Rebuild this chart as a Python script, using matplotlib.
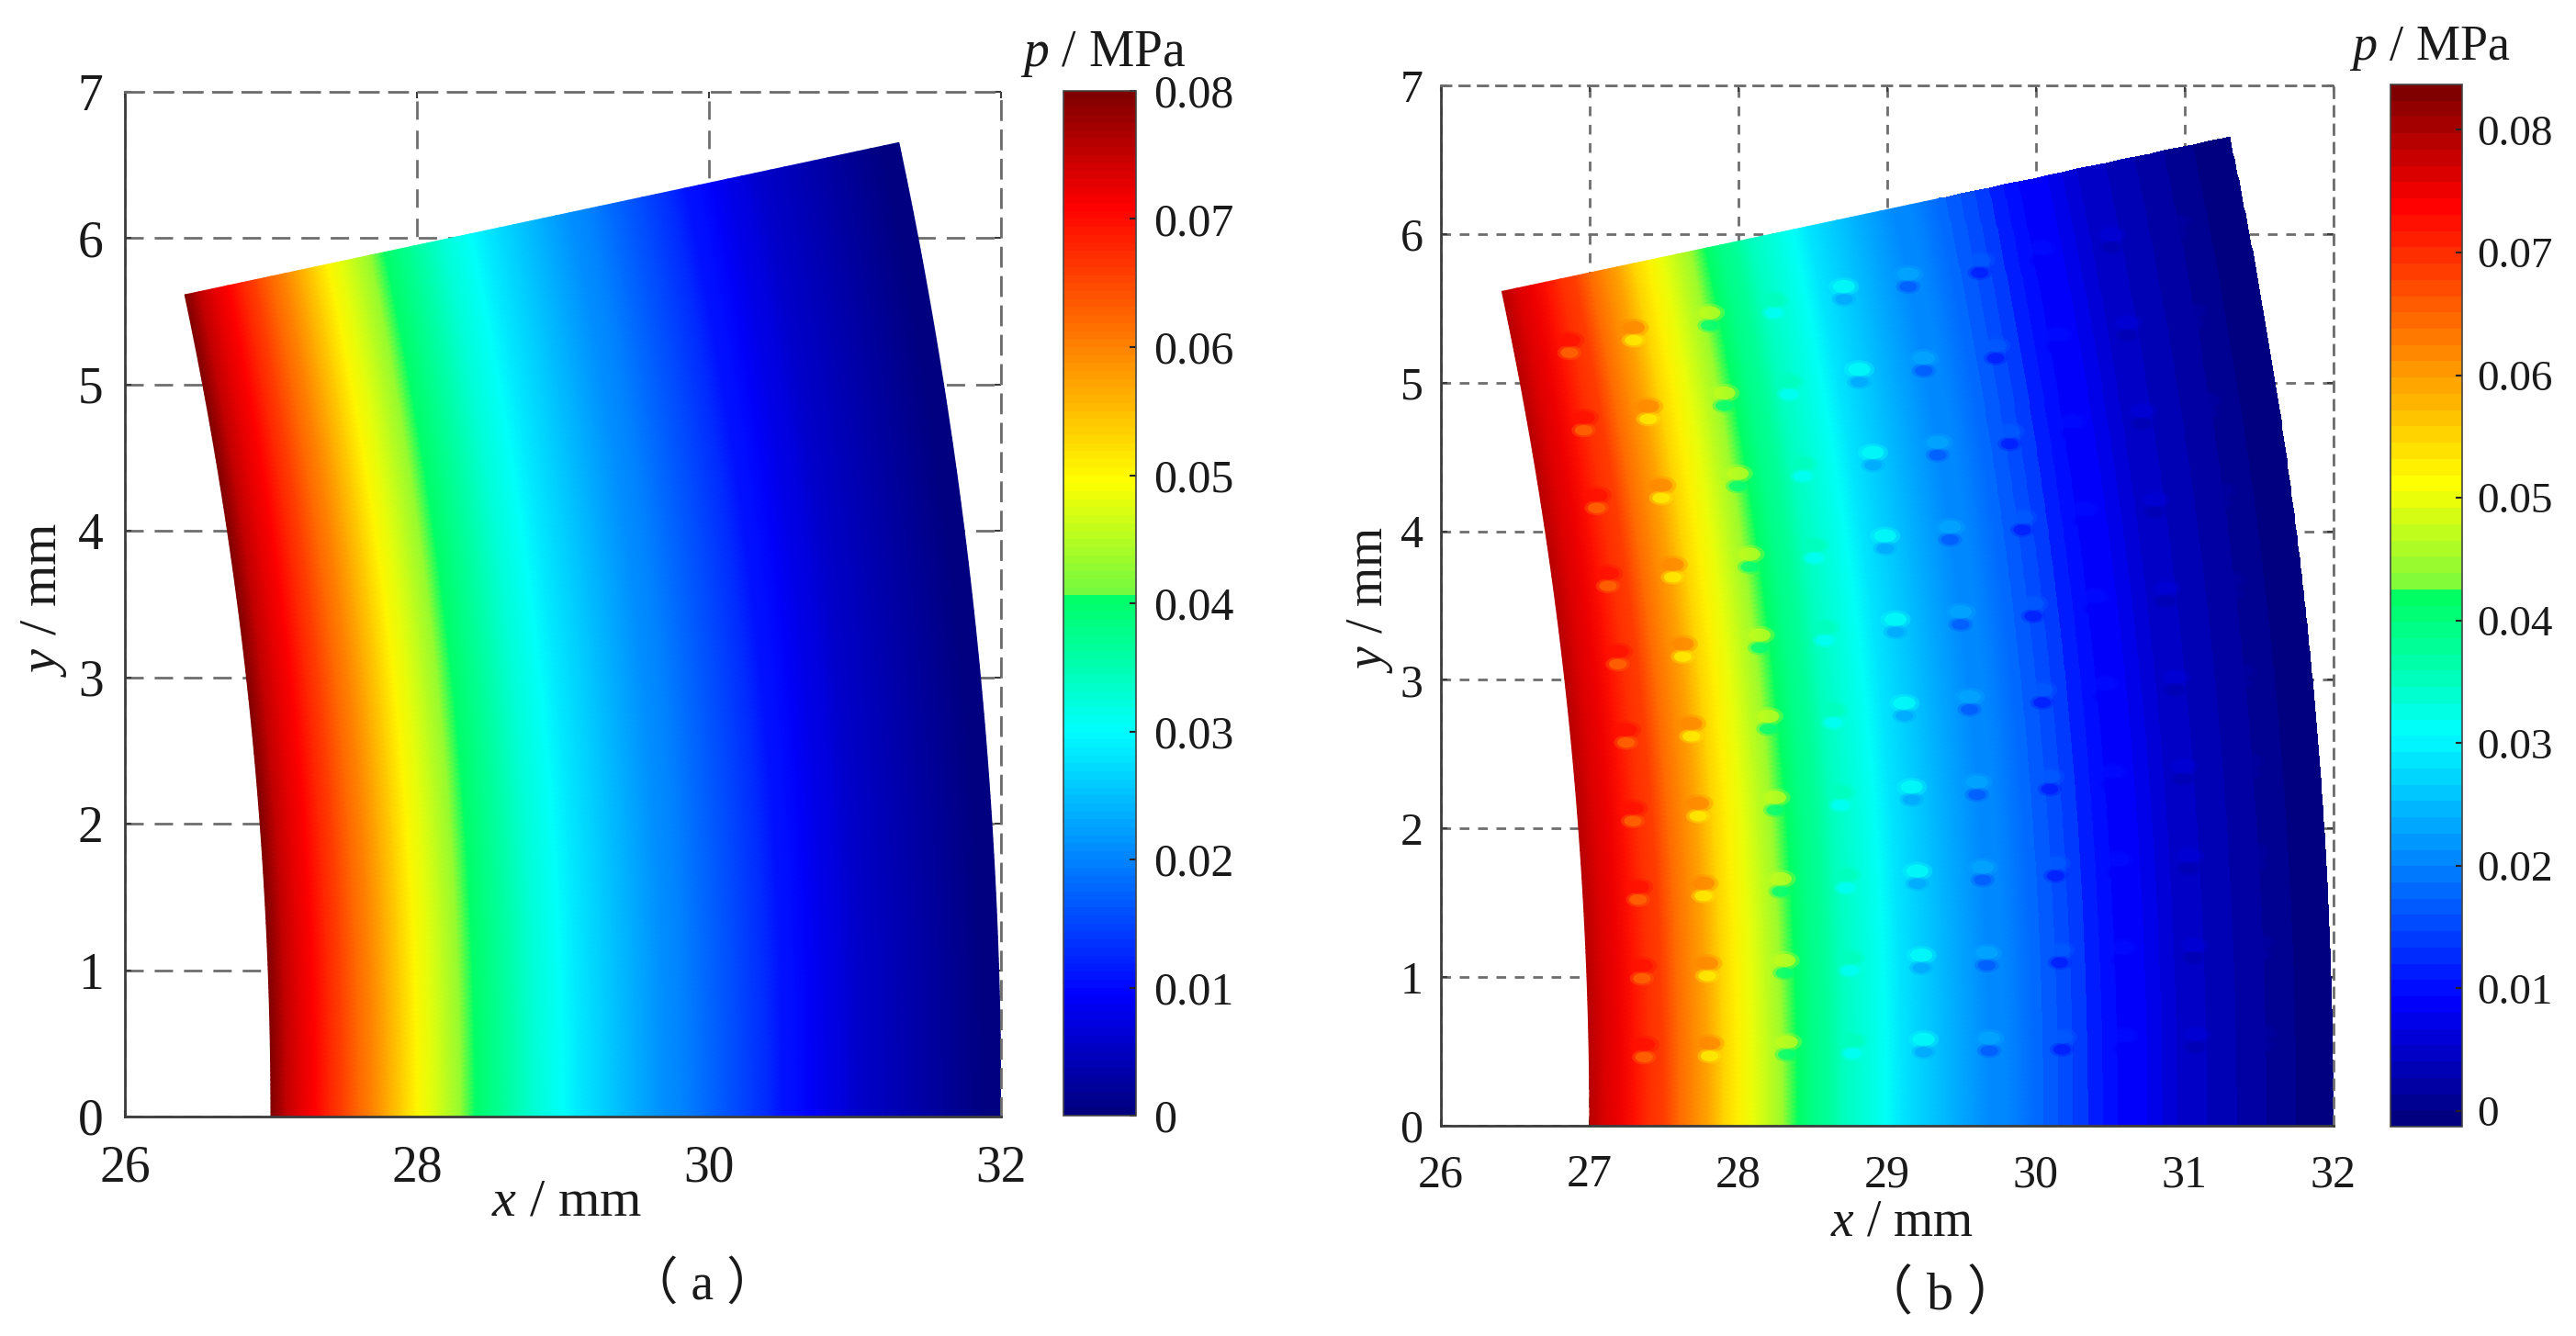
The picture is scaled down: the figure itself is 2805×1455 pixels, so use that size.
import numpy as np
import matplotlib
matplotlib.use("Agg")
import matplotlib.pyplot as plt
from matplotlib.colors import LinearSegmentedColormap, Normalize
from matplotlib.path import Path
from matplotlib.transforms import Affine2D

W, H = 2805, 1455

plt.rcParams["font.family"] = ["Liberation Serif", "Noto Sans CJK SC"]
plt.rcParams["mathtext.fontset"] = "custom"
plt.rcParams["mathtext.it"] = "Liberation Serif:italic"
plt.rcParams["mathtext.rm"] = "Liberation Serif"

# radial positions of the pressure readings, mm
r_nodes = [27.0, 27.1, 27.2, 27.3, 27.4, 27.5, 27.6, 27.7, 27.8, 27.9,
           28.0, 28.1, 28.2, 28.3, 28.4, 28.5, 28.6, 28.7, 28.8, 28.9,
           29.0, 29.1, 29.2, 29.3, 29.4, 29.5, 29.6, 29.7, 29.8, 29.9,
           30.0, 30.1, 30.2, 30.3, 30.4, 30.5, 30.6, 30.7, 30.8, 30.9,
           31.0, 31.1, 31.2, 31.3, 31.4, 31.5, 31.6, 31.7, 31.8, 31.9, 32.0]

# pressure, MPa
p_a = [.0800, .0755, .0730, .0710, .0680, .0650, .0622, .0595, .0565, .0535,
       .0505, .0480, .0455, .0430, .0405, .0385, .0365, .0345, .0330, .0315,
       .0300, .0285, .0272, .0258, .0246, .0234, .0223, .0212, .0200, .0190,
       .0178, .0166, .0153, .0140, .0125, .0112, .0100, .0090, .0080, .0070,
       .0062, .0054, .0047, .0040, .0034, .0028, .0023, .0018, .0012, .0006, .0000]

# pressure, MPa
p_b = [.0790, .0760, .0745, .0728, .0703, .0678, .0648, .0619, .0587, .0555,
       .0524, .0497, .0470, .0444, .0417, .0396, .0375, .0354, .0338, .0322,
       .0306, .0290, .0276, .0261, .0248, .0236, .0224, .0212, .0200, .0189,
       .0176, .0163, .0150, .0136, .0120, .0106, .0093, .0083, .0072, .0061,
       .0053, .0044, .0037, .0030, .0023, .0017, .0011, .0006, .0000, -.0006, -.0013]

# surface dimples in panel (b)
dimple_r = [27.37, 27.81, 28.33, 28.77, 29.25, 29.69, 30.18, 30.60, 31.08, 31.53]
dimple_deg = [1.05, 2.16, 3.27, 4.38, 5.49, 6.60, 7.71, 8.82, 9.93, 11.04]
dimple_hi = [.0015, .0030, .0025, .0010, .0035, .0025, .0015, .0008, .0012, .0004]
dimple_lo = [-.0060, -.0065, -.0040, -.0030, -.0045, -.0045, -.0040, -.0008, -.0015, -.0003]

sector_deg = [0, 12]

cbar_ticks_a = [0, .01, .02, .03, .04, .05, .06, .07, .08]
cbar_ticks_b = [0, .01, .02, .03, .04, .05, .06, .07, .08]
cbar_labels = ["0", "0.01", "0.02", "0.03", "0.04", "0.05", "0.06", "0.07", "0.08"]

# jet-like map with the jump seen near the middle of both colorbars
cmap_stops = [(0.0, (0, 0, 0.5)), (0.115, (0, 0, 1)), (0.375, (0, 1, 1)),
              (0.44, (0, 1, 0.68)), (0.51, (0, 1, 0.38)), (0.51, (0.45, 0.98, 0.25)),
              (0.62, (1, 1, 0)), (0.89, (1, 0, 0)), (1.0, (0.5, 0, 0))]


def px_axes(left, top, right, bottom):
    return fig.add_axes([left / W, 1 - bottom / H, (right - left) / W, (bottom - top) / H])


def sector_smooth(ax, r, p, cmap, norm):
    th = np.radians(np.linspace(sector_deg[0], sector_deg[1], 181))
    R, T = np.meshgrid(r, th)
    C = np.tile(np.array(p), (len(th), 1))
    return ax.pcolormesh(R * np.cos(T), R * np.sin(T), C, cmap=cmap, norm=norm,
                         shading="gouraud", zorder=2, rasterized=True)


def sector_bands(ax, r, p, cmap, norm):
    # one flat band around each reading, this is what shows as stripes in (b)
    r = np.array(r)
    edges = np.concatenate([[r[0]], (r[:-1] + r[1:]) / 2, [r[-1]]])
    th = np.radians(np.linspace(sector_deg[0], sector_deg[1], 181))
    R, T = np.meshgrid(edges, th)
    C = np.tile(np.array(p), (len(th) - 1, 1))
    return ax.pcolormesh(R * np.cos(T), R * np.sin(T), C, cmap=cmap, norm=norm,
                         shading="flat", zorder=2, rasterized=True)


def style_axes(ax, xticks, dash, tick_size, xpad, ypad):
    ax.set_xlim(26, 32)
    ax.set_ylim(0, 7)
    ax.set_xticks(xticks)
    ax.set_yticks(range(8))
    ax.grid(True, color="#6e6e6e", lw=2, linestyle=(0, dash), zorder=1)
    ax.set_axisbelow(True)
    for s in ["top", "right"]:
        ax.spines[s].set_linestyle((0, dash))
        ax.spines[s].set_color("#6e6e6e")
        ax.spines[s].set_linewidth(2)
    for s in ["left", "bottom"]:
        ax.spines[s].set_color("#3c3c3c")
        ax.spines[s].set_linewidth(2)
    ax.tick_params(direction="in", length=5, width=1.5, top=True, right=True,
                   color="#3c3c3c", labelsize=tick_size, labelcolor="#1a1a1a")
    ax.tick_params(axis="x", pad=xpad)
    ax.tick_params(axis="y", pad=ypad)


def style_cbar(cb, ticks, size, pad):
    cb.set_ticks(ticks)
    cb.set_ticklabels(cbar_labels)
    cb.ax.tick_params(direction="in", length=5, width=1.5, color="#222222",
                      labelsize=size, labelcolor="#1a1a1a", pad=pad)
    cb.outline.set_edgecolor("#444444")
    cb.outline.set_linewidth(1.2)


fig = plt.figure(figsize=(W / 100, H / 100), dpi=100, facecolor="white")

# ---------------- panel (a) ----------------
ax_a = px_axes(136, 100, 1090, 1216)
cmap_a = LinearSegmentedColormap.from_list("jet_a", cmap_stops, N=128)
norm_a = Normalize(0, 0.08)
mesh_a = sector_smooth(ax_a, r_nodes, p_a, cmap_a, norm_a)
style_axes(ax_a, [26, 28, 30, 32], (7.2, 4.3), 40, 22, 17)
ax_a.set_xlabel("$x$ / mm", fontsize=42, va="center", color="#1a1a1a")
ax_a.xaxis.set_label_coords((617 - 136) / 954, -(1310 - 1216) / 1116)
ax_a.set_ylabel("$y$ / mm", fontsize=42, va="center", color="#1a1a1a")
ax_a.yaxis.set_label_coords(-(136 - 48) / 954, (1216 - 653) / 1116)

cax_a = px_axes(1158, 99, 1237, 1215)
cb_a = fig.colorbar(mesh_a, cax=cax_a)
style_cbar(cb_a, cbar_ticks_a, 36, 14)
fig.text(1201 / W, 1 - 72 / H, "$p$ / MPa", fontsize=40, ha="center", va="baseline", color="#1a1a1a")
fig.text(765 / W, 1 - 1400 / H, "（ a ）", fontsize=40, ha="center", va="center", color="#1a1a1a")

# ---------------- panel (b) ----------------
ax_b = px_axes(1569, 93, 2541, 1226)
cmap_b = LinearSegmentedColormap.from_list("jet_b", cmap_stops, N=64)
norm_b = Normalize(-0.00127, 0.0837)
split = r_nodes.index(30.0)
mesh_b = sector_smooth(ax_b, r_nodes[:split + 1], p_b[:split + 1], cmap_b, norm_b)
sector_bands(ax_b, r_nodes[split:], p_b[split:], cmap_b, norm_b)
style_axes(ax_b, [26, 27, 28, 29, 30, 31, 32], (3.8, 3.4), 36, 22, 14)
ax_b.set_xlabel("$x$ / mm", fontsize=40, va="center", color="#1a1a1a")
ax_b.xaxis.set_label_coords((2071 - 1569) / 972, -(1332 - 1226) / 1133)
ax_b.set_ylabel("$y$ / mm", fontsize=40, va="center", color="#1a1a1a")
ax_b.yaxis.set_label_coords(-(1569 - 1492) / 972, (1226 - 653) / 1133)

# dimples: a high-pressure lobe just above a low-pressure lobe, soft halo under each
lobe = Path.unit_circle().transformed(Affine2D().scale(1, 0.6))
dr, dth = np.meshgrid(dimple_r, np.radians(dimple_deg))
dx, dy = dr * np.cos(dth), dr * np.sin(dth)
r_edges = (np.array(r_nodes)[:-1] + np.array(r_nodes)[1:]) / 2
base = np.array(p_b)[np.searchsorted(r_edges, dr)]
for scale, alpha in [(1.9, 0.35), (1.0, 0.75)]:
    ax_b.scatter(dx, dy + 0.045, c=base + np.array(dimple_hi), cmap=cmap_b, norm=norm_b,
                 marker=lobe, s=300 * scale, alpha=alpha, linewidths=0, zorder=3)
    ax_b.scatter(dx, dy - 0.04, c=base + np.array(dimple_lo), cmap=cmap_b, norm=norm_b,
                 marker=lobe, s=190 * scale, alpha=alpha, linewidths=0, zorder=3)

cax_b = px_axes(2603, 92, 2681, 1227)
cb_b = fig.colorbar(mesh_b, cax=cax_b)
style_cbar(cb_b, cbar_ticks_b, 34, 12)
fig.text(2646 / W, 1 - 65 / H, "$p$ / MPa", fontsize=39, ha="center", va="baseline", color="#1a1a1a")
fig.text(2113 / W, 1 - 1411 / H, "（ b ）", fontsize=42, ha="center", va="center", color="#1a1a1a")

fig.savefig("out.png", dpi=100)
